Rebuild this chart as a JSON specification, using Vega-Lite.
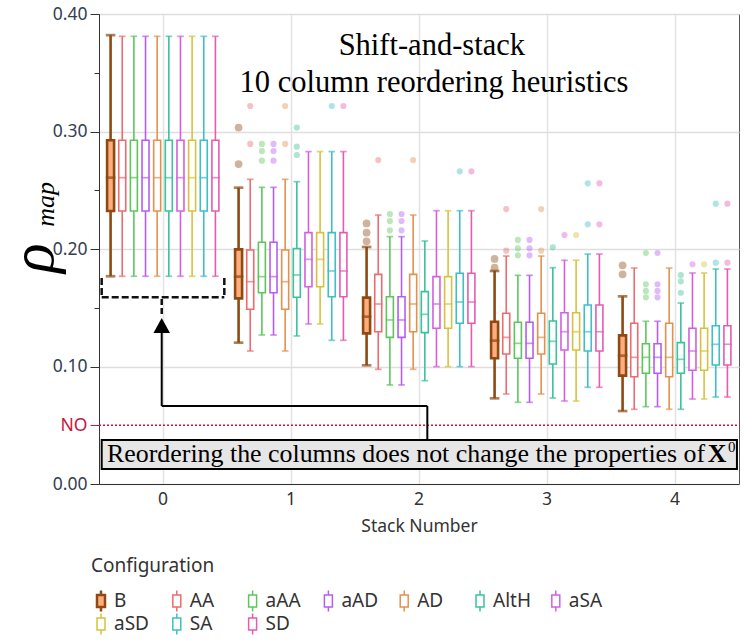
{
  "$schema": "https://vega.github.io/schema/vega-lite/v6.json",
  "width": 640,
  "height": 470,
  "autosize": {"type": "none"},
  "padding": {"left": 99, "top": 14, "right": 6, "bottom": 156},
  "background": "white",
  "config": {
    "view": {"stroke": "#555", "strokeWidth": 1},
    "font": "Noto Sans"
  },
  "datasets": {
    "boxes": [
      {"stack": 0, "cfg": "B", "lo": 0.1768, "q1": 0.2323, "med": 0.2607, "q3": 0.2925, "hi": 0.382},
      {"stack": 0, "cfg": "AA", "lo": 0.1768, "q1": 0.2323, "med": 0.2607, "q3": 0.2925, "hi": 0.381},
      {"stack": 0, "cfg": "aAA", "lo": 0.1768, "q1": 0.2323, "med": 0.2607, "q3": 0.2925, "hi": 0.381},
      {"stack": 0, "cfg": "aAD", "lo": 0.1768, "q1": 0.2323, "med": 0.2607, "q3": 0.2925, "hi": 0.381},
      {"stack": 0, "cfg": "AD", "lo": 0.1768, "q1": 0.2323, "med": 0.2607, "q3": 0.2925, "hi": 0.381},
      {"stack": 0, "cfg": "AltH", "lo": 0.1768, "q1": 0.2323, "med": 0.2607, "q3": 0.2925, "hi": 0.381},
      {"stack": 0, "cfg": "aSA", "lo": 0.1768, "q1": 0.2323, "med": 0.2607, "q3": 0.2925, "hi": 0.381},
      {"stack": 0, "cfg": "aSD", "lo": 0.1768, "q1": 0.2323, "med": 0.2607, "q3": 0.2925, "hi": 0.381},
      {"stack": 0, "cfg": "SA", "lo": 0.1768, "q1": 0.2323, "med": 0.2607, "q3": 0.2925, "hi": 0.381},
      {"stack": 0, "cfg": "SD", "lo": 0.1768, "q1": 0.2323, "med": 0.2607, "q3": 0.2925, "hi": 0.381},

      {"stack": 1, "cfg": "B", "lo": 0.1203, "q1": 0.158, "med": 0.1765, "q3": 0.1997, "hi": 0.2522},
      {"stack": 1, "cfg": "AA", "lo": 0.1132, "q1": 0.1487, "med": 0.1722, "q3": 0.1991, "hi": 0.2593},
      {"stack": 1, "cfg": "aAA", "lo": 0.1268, "q1": 0.1628, "med": 0.1765, "q3": 0.2057, "hi": 0.2525},
      {"stack": 1, "cfg": "aAD", "lo": 0.1268, "q1": 0.1628, "med": 0.1765, "q3": 0.2057, "hi": 0.2525},
      {"stack": 1, "cfg": "AD", "lo": 0.1132, "q1": 0.1487, "med": 0.1722, "q3": 0.1991, "hi": 0.2593},
      {"stack": 1, "cfg": "AltH", "lo": 0.126, "q1": 0.1589, "med": 0.1779, "q3": 0.2003, "hi": 0.2573},
      {"stack": 1, "cfg": "aSA", "lo": 0.1362, "q1": 0.1679, "med": 0.1912, "q3": 0.2139, "hi": 0.2829},
      {"stack": 1, "cfg": "aSD", "lo": 0.1362, "q1": 0.1679, "med": 0.1912, "q3": 0.2139, "hi": 0.2829},
      {"stack": 1, "cfg": "SA", "lo": 0.1223, "q1": 0.1594, "med": 0.1813, "q3": 0.2139, "hi": 0.2829},
      {"stack": 1, "cfg": "SD", "lo": 0.1223, "q1": 0.1594, "med": 0.1813, "q3": 0.2139, "hi": 0.2829},

      {"stack": 2, "cfg": "B", "lo": 0.101, "q1": 0.1282, "med": 0.1424, "q3": 0.1586, "hi": 0.2017},
      {"stack": 2, "cfg": "AA", "lo": 0.0976, "q1": 0.1296, "med": 0.1532, "q3": 0.1784, "hi": 0.2289},
      {"stack": 2, "cfg": "aAA", "lo": 0.0843, "q1": 0.1248, "med": 0.1396, "q3": 0.1594, "hi": 0.2105},
      {"stack": 2, "cfg": "aAD", "lo": 0.0843, "q1": 0.1248, "med": 0.1396, "q3": 0.1594, "hi": 0.2105},
      {"stack": 2, "cfg": "AD", "lo": 0.0976, "q1": 0.1296, "med": 0.1532, "q3": 0.1784, "hi": 0.2289},
      {"stack": 2, "cfg": "AltH", "lo": 0.0879, "q1": 0.1288, "med": 0.1444, "q3": 0.1637, "hi": 0.2068},
      {"stack": 2, "cfg": "aSA", "lo": 0.0999, "q1": 0.1325, "med": 0.1532, "q3": 0.1765, "hi": 0.2326},
      {"stack": 2, "cfg": "aSD", "lo": 0.0999, "q1": 0.1325, "med": 0.1532, "q3": 0.1765, "hi": 0.2326},
      {"stack": 2, "cfg": "SA", "lo": 0.0999, "q1": 0.1368, "med": 0.1549, "q3": 0.1793, "hi": 0.2326},
      {"stack": 2, "cfg": "SD", "lo": 0.0999, "q1": 0.1368, "med": 0.1549, "q3": 0.1793, "hi": 0.2326},

      {"stack": 3, "cfg": "B", "lo": 0.0729, "q1": 0.107, "med": 0.122, "q3": 0.1381, "hi": 0.1813},
      {"stack": 3, "cfg": "AA", "lo": 0.0766, "q1": 0.1106, "med": 0.1248, "q3": 0.1453, "hi": 0.194},
      {"stack": 3, "cfg": "aAA", "lo": 0.0695, "q1": 0.107, "med": 0.1197, "q3": 0.1376, "hi": 0.1776},
      {"stack": 3, "cfg": "aAD", "lo": 0.0695, "q1": 0.107, "med": 0.1197, "q3": 0.1376, "hi": 0.1776},
      {"stack": 3, "cfg": "AD", "lo": 0.0766, "q1": 0.1106, "med": 0.1248, "q3": 0.1453, "hi": 0.194},
      {"stack": 3, "cfg": "AltH", "lo": 0.0732, "q1": 0.1021, "med": 0.1214, "q3": 0.1387, "hi": 0.1841},
      {"stack": 3, "cfg": "aSA", "lo": 0.0706, "q1": 0.114, "med": 0.1296, "q3": 0.1458, "hi": 0.1904},
      {"stack": 3, "cfg": "aSD", "lo": 0.0706, "q1": 0.114, "med": 0.1296, "q3": 0.1458, "hi": 0.1904},
      {"stack": 3, "cfg": "SA", "lo": 0.0823, "q1": 0.1132, "med": 0.1296, "q3": 0.1523, "hi": 0.1957},
      {"stack": 3, "cfg": "SD", "lo": 0.0823, "q1": 0.1132, "med": 0.1296, "q3": 0.1523, "hi": 0.1957},

      {"stack": 4, "cfg": "B", "lo": 0.0621, "q1": 0.0922, "med": 0.1092, "q3": 0.1265, "hi": 0.1597},
      {"stack": 4, "cfg": "AA", "lo": 0.0636, "q1": 0.0913, "med": 0.1078, "q3": 0.1368, "hi": 0.1838},
      {"stack": 4, "cfg": "aAA", "lo": 0.0658, "q1": 0.0942, "med": 0.1078, "q3": 0.1194, "hi": 0.1385},
      {"stack": 4, "cfg": "aAD", "lo": 0.0658, "q1": 0.0942, "med": 0.1078, "q3": 0.1194, "hi": 0.1385},
      {"stack": 4, "cfg": "AD", "lo": 0.0636, "q1": 0.0913, "med": 0.1078, "q3": 0.1368, "hi": 0.1838},
      {"stack": 4, "cfg": "AltH", "lo": 0.0636, "q1": 0.0942, "med": 0.1061, "q3": 0.1203, "hi": 0.154},
      {"stack": 4, "cfg": "aSA", "lo": 0.0723, "q1": 0.0968, "med": 0.1132, "q3": 0.1325, "hi": 0.1796},
      {"stack": 4, "cfg": "aSD", "lo": 0.0723, "q1": 0.0968, "med": 0.1132, "q3": 0.1325, "hi": 0.1796},
      {"stack": 4, "cfg": "SA", "lo": 0.074, "q1": 0.1013, "med": 0.1189, "q3": 0.1347, "hi": 0.183},
      {"stack": 4, "cfg": "SD", "lo": 0.074, "q1": 0.1013, "med": 0.1189, "q3": 0.1347, "hi": 0.183}
    ],
    "outliers": [
      {"stack": 1, "cfg": "B", "v": 0.3033}, {"stack": 1, "cfg": "B", "v": 0.2723},
      {"stack": 1, "cfg": "AA", "v": 0.3217}, {"stack": 1, "cfg": "AA", "v": 0.2894},
      {"stack": 1, "cfg": "aAA", "v": 0.2894}, {"stack": 1, "cfg": "aAA", "v": 0.2834}, {"stack": 1, "cfg": "aAA", "v": 0.2752},
      {"stack": 1, "cfg": "aAD", "v": 0.2894}, {"stack": 1, "cfg": "aAD", "v": 0.2834}, {"stack": 1, "cfg": "aAD", "v": 0.2752},
      {"stack": 1, "cfg": "AD", "v": 0.3217}, {"stack": 1, "cfg": "AD", "v": 0.2894},
      {"stack": 1, "cfg": "AltH", "v": 0.3033}, {"stack": 1, "cfg": "AltH", "v": 0.2871}, {"stack": 1, "cfg": "AltH", "v": 0.28},
      {"stack": 1, "cfg": "SA", "v": 0.3217}, {"stack": 1, "cfg": "SD", "v": 0.3217},
      {"stack": 2, "cfg": "B", "v": 0.2218}, {"stack": 2, "cfg": "B", "v": 0.2139}, {"stack": 2, "cfg": "B", "v": 0.2065},
      {"stack": 2, "cfg": "AA", "v": 0.2757},
      {"stack": 2, "cfg": "aAA", "v": 0.2298}, {"stack": 2, "cfg": "aAA", "v": 0.2238}, {"stack": 2, "cfg": "aAA", "v": 0.2159},
      {"stack": 2, "cfg": "aAD", "v": 0.2298}, {"stack": 2, "cfg": "aAD", "v": 0.2238}, {"stack": 2, "cfg": "aAD", "v": 0.2159},
      {"stack": 2, "cfg": "AD", "v": 0.2757},
      {"stack": 2, "cfg": "SA", "v": 0.2661}, {"stack": 2, "cfg": "SD", "v": 0.2661},
      {"stack": 3, "cfg": "B", "v": 0.1915}, {"stack": 3, "cfg": "B", "v": 0.1841},
      {"stack": 3, "cfg": "AA", "v": 0.234}, {"stack": 3, "cfg": "AA", "v": 0.1986},
      {"stack": 3, "cfg": "aAA", "v": 0.2077}, {"stack": 3, "cfg": "aAA", "v": 0.2006}, {"stack": 3, "cfg": "aAA", "v": 0.1946},
      {"stack": 3, "cfg": "aAD", "v": 0.2077}, {"stack": 3, "cfg": "aAD", "v": 0.2006}, {"stack": 3, "cfg": "aAD", "v": 0.1946},
      {"stack": 3, "cfg": "AD", "v": 0.234}, {"stack": 3, "cfg": "AD", "v": 0.1986},
      {"stack": 3, "cfg": "AltH", "v": 0.2014},
      {"stack": 3, "cfg": "aSA", "v": 0.2119}, {"stack": 3, "cfg": "aSD", "v": 0.2119},
      {"stack": 3, "cfg": "SA", "v": 0.2559}, {"stack": 3, "cfg": "SA", "v": 0.221},
      {"stack": 3, "cfg": "SD", "v": 0.2559}, {"stack": 3, "cfg": "SD", "v": 0.221},
      {"stack": 4, "cfg": "B", "v": 0.1861}, {"stack": 4, "cfg": "B", "v": 0.1785},
      {"stack": 4, "cfg": "aAA", "v": 0.1966}, {"stack": 4, "cfg": "aAA", "v": 0.17}, {"stack": 4, "cfg": "aAA", "v": 0.1643}, {"stack": 4, "cfg": "aAA", "v": 0.1589},
      {"stack": 4, "cfg": "aAD", "v": 0.1966}, {"stack": 4, "cfg": "aAD", "v": 0.17}, {"stack": 4, "cfg": "aAD", "v": 0.1643}, {"stack": 4, "cfg": "aAD", "v": 0.1589},
      {"stack": 4, "cfg": "AltH", "v": 0.1779}, {"stack": 4, "cfg": "AltH", "v": 0.1725}, {"stack": 4, "cfg": "AltH", "v": 0.1628},
      {"stack": 4, "cfg": "aSA", "v": 0.187}, {"stack": 4, "cfg": "aSD", "v": 0.187},
      {"stack": 4, "cfg": "SA", "v": 0.2386}, {"stack": 4, "cfg": "SA", "v": 0.1884},
      {"stack": 4, "cfg": "SD", "v": 0.2386}, {"stack": 4, "cfg": "SD", "v": 0.1884}
    ]
  },
  "resolve": {"scale": {"x": "independent"}, "axis": {"x": "independent"}},
  "layer": [
    {
      "data": {"name": "boxes"},
      "encoding": {
        "x": {
          "field": "stack", "type": "ordinal",
          "scale": {"domain": [0, 1, 2, 3, 4], "paddingInner": 0, "paddingOuter": 0},
          "axis": {
            "title": "Stack Number", "labelAngle": 0, "ticks": false, "grid": true, "bandPosition": 0.5,
            "gridColor": "#e2e2e2", "gridWidth": 1.5, "domainColor": "#333",
            "labelFont": "Noto Sans", "labelFontSize": 17.5, "labelColor": "#333", "labelPadding": 6,
            "titleFont": "Noto Sans", "titleFontSize": 17.5, "titleFontWeight": "normal", "titleColor": "#333", "titlePadding": 10
          }
        },
        "xOffset": {
          "field": "cfg", "type": "nominal",
          "scale": {"domain": ["B", "AA", "aAA", "aAD", "AD", "AltH", "aSA", "aSD", "SA", "SD"], "paddingInner": 0.4, "paddingOuter": 0.695}
        }
      },
      "layer": [
        {
          "mark": {"type": "rule"},
          "encoding": {
            "y": {
              "field": "lo", "type": "quantitative",
              "scale": {"domain": [0, 0.4], "nice": false},
              "axis": {
                "orient": "left", "title": null,
                "values": [0, 0.025, 0.05, 0.075, 0.1, 0.125, 0.15, 0.175, 0.2, 0.225, 0.25, 0.275, 0.3, 0.325, 0.35, 0.375, 0.4],
                "labelExpr": "abs(datum.value-0.05)<0.001 ? 'NO' : (abs(datum.value*10-round(datum.value*10))<0.001 ? format(datum.value, '.2f') : '')",
                "labelColor": {"condition": {"test": "abs(datum.value-0.05)<0.001", "value": "#c8163e"}, "value": "#334050"},
                "tickColor": {"condition": {"test": "abs(datum.value-0.05)<0.001", "value": "#c8163e"}, "value": "#333"},
                "tickSize": {"condition": {"test": "abs(datum.value-0.05)<0.001 || abs(datum.value*10-round(datum.value*10))<0.001", "value": 9}, "value": 5},
                "gridOpacity": {"condition": {"test": "abs(datum.value*10-round(datum.value*10))<0.001", "value": 1}, "value": 0},
                "gridColor": "#dedede", "gridWidth": 1.5, "grid": true,
                "labelPadding": 3, "domainColor": "#333",
                "labelFont": "Noto Sans", "labelFontSize": 17.5
              }
            },
            "y2": {"field": "hi"},
            "color": {
              "field": "cfg", "type": "nominal", "legend": null,
              "scale": {"domain": ["B", "AA", "aAA", "aAD", "AD", "AltH", "aSA", "aSD", "SA", "SD"],
                        "range": ["#8e4a12", "#ec6b70", "#5cc65c", "#b55df2", "#e4914e", "#3bc29c", "#d65ee2", "#d2c43e", "#3fbec4", "#e35cb2"]}
            },
            "strokeWidth": {"condition": {"test": "datum.cfg === 'B'", "value": 2.6}, "value": 1.6}
          }
        },
        {
          "mark": {"type": "tick", "filled": false, "thickness": 0.1},
          "encoding": {
            "y": {"field": "lo", "type": "quantitative"},
            "color": {"field": "cfg", "type": "nominal", "legend": null},
            "size": {"condition": {"test": "datum.cfg === 'B'", "value": 7}, "value": 5},
            "strokeWidth": {"condition": {"test": "datum.cfg === 'B'", "value": 2.6}, "value": 1.6}
          }
        },
        {
          "mark": {"type": "tick", "filled": false, "thickness": 0.1},
          "encoding": {
            "y": {"field": "hi", "type": "quantitative"},
            "color": {"field": "cfg", "type": "nominal", "legend": null},
            "size": {"condition": {"test": "datum.cfg === 'B'", "value": 7}, "value": 5},
            "strokeWidth": {"condition": {"test": "datum.cfg === 'B'", "value": 2.6}, "value": 1.6}
          }
        },
        {
          "mark": {"type": "bar"},
          "encoding": {
            "y": {"field": "q1", "type": "quantitative"},
            "y2": {"field": "q3"},
            "stroke": {
              "field": "cfg", "type": "nominal", "legend": null,
              "scale": {"domain": ["B", "AA", "aAA", "aAD", "AD", "AltH", "aSA", "aSD", "SA", "SD"],
                        "range": ["#8e4a12", "#ec6b70", "#5cc65c", "#b55df2", "#e4914e", "#3bc29c", "#d65ee2", "#d2c43e", "#3fbec4", "#e35cb2"]}
            },
            "fill": {
              "field": "cfg", "type": "nominal", "legend": null,
              "scale": {"domain": ["B", "AA", "aAA", "aAD", "AD", "AltH", "aSA", "aSD", "SA", "SD"],
                        "range": ["#ffad7d", "#ffffff", "#ffffff", "#ffffff", "#ffffff", "#ffffff", "#ffffff", "#ffffff", "#ffffff", "#ffffff"]}
            },
            "strokeWidth": {"condition": {"test": "datum.cfg === 'B'", "value": 2.6}, "value": 1.6}
          }
        },
        {
          "mark": {"type": "tick", "filled": false, "thickness": 0.1},
          "encoding": {
            "y": {"field": "med", "type": "quantitative"},
            "color": {"field": "cfg", "type": "nominal", "legend": null},
            "size": {"value": 7},
            "strokeWidth": {"condition": {"test": "datum.cfg === 'B'", "value": 2.6}, "value": 1.6}
          }
        },
        {
          "data": {"name": "outliers"},
          "mark": {"type": "circle", "opacity": 0.42},
          "encoding": {
            "y": {"field": "v", "type": "quantitative"},
            "color": {"field": "cfg", "type": "nominal", "legend": null},
            "size": {"condition": {"test": "datum.cfg === 'B'", "value": 60}, "value": 38}
          }
        }
      ]
    },
    {
      "data": {"values": [{}]},
      "layer": [
        {
          "mark": {"type": "rule", "color": "#d0103a", "strokeDash": [2, 2], "strokeWidth": 1.3},
          "encoding": {
            "x": {"datum": -0.5, "type": "quantitative", "scale": {"domain": [-0.5, 4.5], "nice": false, "zero": false}, "axis": null},
            "x2": {"datum": 4.5},
            "y": {"datum": 0.05, "type": "quantitative"}
          }
        },
        {
          "mark": {"type": "rule", "color": "#111", "strokeDash": [7, 3], "strokeWidth": 2.5},
          "encoding": {"x": {"datum": -0.479}, "y": {"datum": 0.1753}, "y2": {"datum": 0.1589}}
        },
        {
          "mark": {"type": "rule", "color": "#111", "strokeDash": [7, 3], "strokeWidth": 2.5},
          "encoding": {"x": {"datum": 0.479}, "y": {"datum": 0.1753}, "y2": {"datum": 0.1589}}
        },
        {
          "mark": {"type": "rule", "color": "#111", "strokeDash": [7, 3], "strokeWidth": 2.5},
          "encoding": {"x": {"datum": -0.479}, "x2": {"datum": 0.479}, "y": {"datum": 0.1589}}
        },
        {
          "mark": {"type": "rule", "color": "#111", "strokeDash": [6, 3], "strokeWidth": 2.5},
          "encoding": {"x": {"datum": -0.01}, "y": {"datum": 0.1574}, "y2": {"datum": 0.1421}}
        },
        {
          "mark": {"type": "point", "filled": true, "color": "#000", "opacity": 1, "shape": "M0,-1L1.1,1L-1.1,1Z", "size": 225},
          "encoding": {"x": {"datum": -0.01}, "y": {"datum": 0.1349}}
        },
        {
          "mark": {"type": "rule", "color": "#000", "strokeWidth": 2},
          "encoding": {"x": {"datum": -0.01}, "y": {"datum": 0.1336}, "y2": {"datum": 0.0664}}
        },
        {
          "mark": {"type": "rule", "color": "#000", "strokeWidth": 2},
          "encoding": {"x": {"datum": -0.01}, "x2": {"datum": 2.065}, "y": {"datum": 0.0664}}
        },
        {
          "mark": {"type": "rule", "color": "#000", "strokeWidth": 2},
          "encoding": {"x": {"datum": 2.065}, "y": {"datum": 0.0664}, "y2": {"datum": 0.0374}}
        },
        {
          "mark": {"type": "rect", "fill": "#e6e6e6", "stroke": "#000", "strokeWidth": 2},
          "encoding": {"x": {"datum": -0.479}, "x2": {"datum": 4.484}, "y": {"datum": 0.0374}, "y2": {"datum": 0.0128}}
        },
        {
          "mark": {"type": "text", "text": "Reordering the columns does not change the properties of", "font": "Liberation Serif", "fontSize": 25.9, "align": "left", "baseline": "alphabetic", "color": "#000"},
          "encoding": {"x": {"datum": -0.4375}, "y": {"datum": 0.019}}
        },
        {
          "mark": {"type": "text", "text": "X", "font": "Liberation Serif", "fontSize": 25.9, "fontWeight": "bold", "align": "left", "baseline": "alphabetic", "color": "#000"},
          "encoding": {"x": {"datum": 4.255}, "y": {"datum": 0.019}}
        },
        {
          "mark": {"type": "text", "text": "0", "font": "Liberation Serif", "fontSize": 15, "align": "left", "baseline": "alphabetic", "color": "#000"},
          "encoding": {"x": {"datum": 4.415}, "y": {"datum": 0.0275}}
        },
        {
          "mark": {"type": "text", "text": "Shift-and-stack", "font": "Liberation Serif", "fontSize": 30.5, "align": "center", "baseline": "alphabetic", "color": "#000"},
          "encoding": {"x": {"datum": 2.10}, "y": {"datum": 0.3651}}
        },
        {
          "mark": {"type": "text", "text": "10 column reordering heuristics", "font": "Liberation Serif", "fontSize": 30.5, "align": "center", "baseline": "alphabetic", "color": "#000"},
          "encoding": {"x": {"datum": 2.117}, "y": {"datum": 0.3336}}
        },
        {
          "mark": {"type": "text", "text": "ρ", "font": "Liberation Serif", "fontSize": 62, "fontStyle": "italic", "angle": 270, "align": "center", "baseline": "alphabetic", "color": "#000"},
          "encoding": {"x": {"datum": -0.86}, "y": {"datum": 0.1923}}
        },
        {
          "mark": {"type": "text", "text": "map", "font": "Liberation Serif", "fontSize": 26, "fontStyle": "italic", "angle": 270, "align": "center", "baseline": "alphabetic", "color": "#000"},
          "encoding": {"x": {"datum": -0.85}, "y": {"datum": 0.238}}
        },
        {
          "mark": {"type": "text", "text": "Configuration", "font": "Noto Sans", "fontSize": 19, "align": "left", "baseline": "middle", "color": "#333"},
          "encoding": {"x": {"datum": -0.5625}, "y": {"datum": -0.0698}}
        },
        {"mark": {"type": "point", "shape": "M0,-1L0,-0.57M-0.38,-0.57L0.38,-0.57L0.38,0.57L-0.38,0.57ZM0,0.57L0,1", "size": 441, "fill": "#ffad7d", "stroke": "#8e4a12", "strokeWidth": 2.5, "opacity": 1, "fillOpacity": 1}, "encoding": {"x": {"datum": -0.4844}, "y": {"datum": -0.0996}}},
        {"mark": {"type": "point", "shape": "M0,-1L0,-0.57M-0.38,-0.57L0.38,-0.57L0.38,0.57L-0.38,0.57ZM0,0.57L0,1", "size": 441, "fill": "#ffffff", "stroke": "#ec6b70", "strokeWidth": 1.5, "opacity": 1, "fillOpacity": 1}, "encoding": {"x": {"datum": 0.1078}, "y": {"datum": -0.0996}}},
        {"mark": {"type": "point", "shape": "M0,-1L0,-0.57M-0.38,-0.57L0.38,-0.57L0.38,0.57L-0.38,0.57ZM0,0.57L0,1", "size": 441, "fill": "#ffffff", "stroke": "#5cc65c", "strokeWidth": 1.5, "opacity": 1, "fillOpacity": 1}, "encoding": {"x": {"datum": 0.7}, "y": {"datum": -0.0996}}},
        {"mark": {"type": "point", "shape": "M0,-1L0,-0.57M-0.38,-0.57L0.38,-0.57L0.38,0.57L-0.38,0.57ZM0,0.57L0,1", "size": 441, "fill": "#ffffff", "stroke": "#b55df2", "strokeWidth": 1.5, "opacity": 1, "fillOpacity": 1}, "encoding": {"x": {"datum": 1.2922}, "y": {"datum": -0.0996}}},
        {"mark": {"type": "point", "shape": "M0,-1L0,-0.57M-0.38,-0.57L0.38,-0.57L0.38,0.57L-0.38,0.57ZM0,0.57L0,1", "size": 441, "fill": "#ffffff", "stroke": "#e4914e", "strokeWidth": 1.5, "opacity": 1, "fillOpacity": 1}, "encoding": {"x": {"datum": 1.8844}, "y": {"datum": -0.0996}}},
        {"mark": {"type": "point", "shape": "M0,-1L0,-0.57M-0.38,-0.57L0.38,-0.57L0.38,0.57L-0.38,0.57ZM0,0.57L0,1", "size": 441, "fill": "#ffffff", "stroke": "#3bc29c", "strokeWidth": 1.5, "opacity": 1, "fillOpacity": 1}, "encoding": {"x": {"datum": 2.4766}, "y": {"datum": -0.0996}}},
        {"mark": {"type": "point", "shape": "M0,-1L0,-0.57M-0.38,-0.57L0.38,-0.57L0.38,0.57L-0.38,0.57ZM0,0.57L0,1", "size": 441, "fill": "#ffffff", "stroke": "#d65ee2", "strokeWidth": 1.5, "opacity": 1, "fillOpacity": 1}, "encoding": {"x": {"datum": 3.0688}, "y": {"datum": -0.0996}}},
        {"mark": {"type": "point", "shape": "M0,-1L0,-0.57M-0.38,-0.57L0.38,-0.57L0.38,0.57L-0.38,0.57ZM0,0.57L0,1", "size": 441, "fill": "#ffffff", "stroke": "#d2c43e", "strokeWidth": 1.5, "opacity": 1, "fillOpacity": 1}, "encoding": {"x": {"datum": -0.4844}, "y": {"datum": -0.1191}}},
        {"mark": {"type": "point", "shape": "M0,-1L0,-0.57M-0.38,-0.57L0.38,-0.57L0.38,0.57L-0.38,0.57ZM0,0.57L0,1", "size": 441, "fill": "#ffffff", "stroke": "#3fbec4", "strokeWidth": 1.5, "opacity": 1, "fillOpacity": 1}, "encoding": {"x": {"datum": 0.1078}, "y": {"datum": -0.1191}}},
        {"mark": {"type": "point", "shape": "M0,-1L0,-0.57M-0.38,-0.57L0.38,-0.57L0.38,0.57L-0.38,0.57ZM0,0.57L0,1", "size": 441, "fill": "#ffffff", "stroke": "#e35cb2", "strokeWidth": 1.5, "opacity": 1, "fillOpacity": 1}, "encoding": {"x": {"datum": 0.7}, "y": {"datum": -0.1191}}},
        {"mark": {"type": "text", "text": "B", "font": "Noto Sans", "fontSize": 19, "align": "left", "baseline": "middle", "color": "#333"}, "encoding": {"x": {"datum": -0.3828}, "y": {"datum": -0.0996}}},
        {"mark": {"type": "text", "text": "AA", "font": "Noto Sans", "fontSize": 19, "align": "left", "baseline": "middle", "color": "#333"}, "encoding": {"x": {"datum": 0.2094}, "y": {"datum": -0.0996}}},
        {"mark": {"type": "text", "text": "aAA", "font": "Noto Sans", "fontSize": 19, "align": "left", "baseline": "middle", "color": "#333"}, "encoding": {"x": {"datum": 0.8016}, "y": {"datum": -0.0996}}},
        {"mark": {"type": "text", "text": "aAD", "font": "Noto Sans", "fontSize": 19, "align": "left", "baseline": "middle", "color": "#333"}, "encoding": {"x": {"datum": 1.3938}, "y": {"datum": -0.0996}}},
        {"mark": {"type": "text", "text": "AD", "font": "Noto Sans", "fontSize": 19, "align": "left", "baseline": "middle", "color": "#333"}, "encoding": {"x": {"datum": 1.9859}, "y": {"datum": -0.0996}}},
        {"mark": {"type": "text", "text": "AltH", "font": "Noto Sans", "fontSize": 19, "align": "left", "baseline": "middle", "color": "#333"}, "encoding": {"x": {"datum": 2.5781}, "y": {"datum": -0.0996}}},
        {"mark": {"type": "text", "text": "aSA", "font": "Noto Sans", "fontSize": 19, "align": "left", "baseline": "middle", "color": "#333"}, "encoding": {"x": {"datum": 3.1703}, "y": {"datum": -0.0996}}},
        {"mark": {"type": "text", "text": "aSD", "font": "Noto Sans", "fontSize": 19, "align": "left", "baseline": "middle", "color": "#333"}, "encoding": {"x": {"datum": -0.3828}, "y": {"datum": -0.1191}}},
        {"mark": {"type": "text", "text": "SA", "font": "Noto Sans", "fontSize": 19, "align": "left", "baseline": "middle", "color": "#333"}, "encoding": {"x": {"datum": 0.2094}, "y": {"datum": -0.1191}}},
        {"mark": {"type": "text", "text": "SD", "font": "Noto Sans", "fontSize": 19, "align": "left", "baseline": "middle", "color": "#333"}, "encoding": {"x": {"datum": 0.8016}, "y": {"datum": -0.1191}}}
      ]
    }
  ]
}
